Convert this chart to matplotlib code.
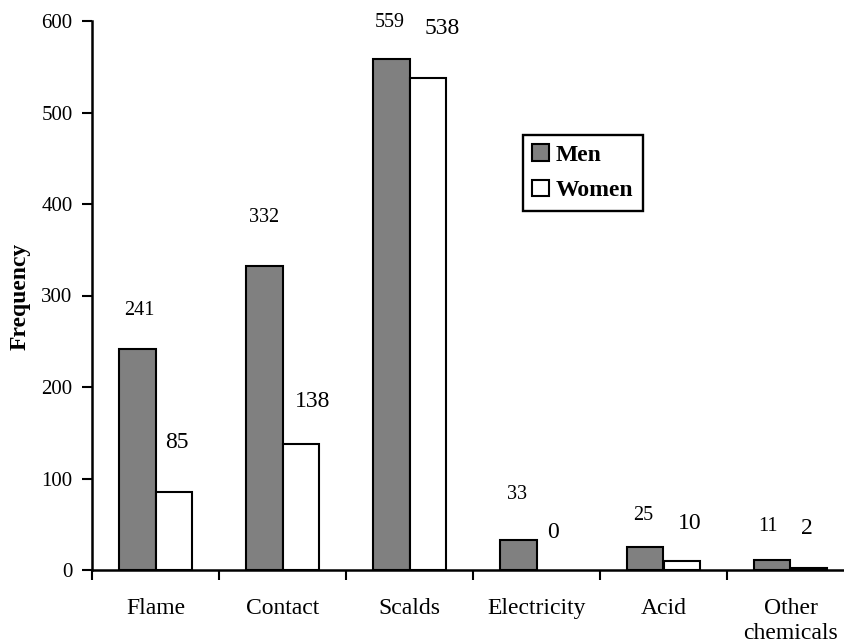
import matplotlib
matplotlib.use("Agg")
import matplotlib.pyplot as plt
import numpy as np

categories = ["Flame", "Contact", "Scalds", "Electricity", "Acid", "Other\nchemicals"]
men = [241, 332, 559, 33, 25, 11]
women = [85, 138, 538, 0, 10, 2]
yticks = [0, 100, 200, 300, 400, 500, 600]

# label anchor positions (category units / data units)
men_label_x = [-0.13, 0.856, 1.846, 2.846, 3.839, 4.823]
men_label_y = [284, 385, 598, 82, 60, 48]
women_label_x = [0.169, 1.24, 2.256, 3.13, 4.209, 5.13]
women_label_y = [139, 184, 592, 41.5, 51, 45]

plt.rcParams['font.family'] = ['Liberation Serif', 'DejaVu Serif']

W, H = 844, 644
fig = plt.figure(figsize=(W / 100, H / 100), dpi=100)
ax = fig.add_axes([92 / W, 1 - 570 / H, 762 / W, 549 / H])

x = np.arange(len(categories))
bw = 0.287
ax.bar(x - bw / 2, men, bw, color='#808080', edgecolor='black', linewidth=1.5, label='Men', zorder=2)
wl = [1.5 if v > 0 else 0 for v in women]
ax.bar(x + bw / 2, women, bw, color='white', edgecolor='black', linewidth=wl, label='Women', zorder=2)

for lx, ly, v in zip(men_label_x, men_label_y, men):
    ax.text(lx, ly, str(v), ha='center', va='center', fontsize=14.5)
for lx, ly, v in zip(women_label_x, women_label_y, women):
    ax.text(lx, ly, str(v), ha='center', va='center', fontsize=17)

ax.set_xlim(-0.5, 5.5)
ax.set_ylim(0, 600)
ax.set_yticks(yticks)
ax.tick_params(axis='y', labelsize=15, length=7, width=1.5, direction='out', pad=7)
ax.set_xticks(x)
ax.set_xticklabels(categories, fontsize=17, linespacing=1.25)
ax.tick_params(axis='x', which='major', length=0, pad=20)
ax.set_xticks(np.arange(-0.5, 6.0, 1.0), minor=True)
ax.tick_params(axis='x', which='minor', length=7, width=1.5, direction='out')

for s in ['top', 'right']:
    ax.spines[s].set_visible(False)
for s in ['left', 'bottom']:
    ax.spines[s].set_linewidth(1.8)
    ax.spines[s].set_zorder(3)

fig.text(20 / W, 1 - 296 / H, 'Frequency', rotation=90, ha='center', va='center',
         fontsize=17, fontweight='bold')

leg = ax.legend(loc='upper left', bbox_to_anchor=(523 / W, 1 - 135 / H), bbox_transform=fig.transFigure,
                frameon=True, fancybox=False, edgecolor='black', framealpha=1,
                prop={'size': 17, 'weight': 'bold'}, handlelength=0.68, handleheight=0.68,
                handletextpad=0.3, labelspacing=0.6, borderpad=0.4, borderaxespad=0)
leg.get_frame().set_linewidth(1.7)

fig.savefig('out.png', dpi=100)
